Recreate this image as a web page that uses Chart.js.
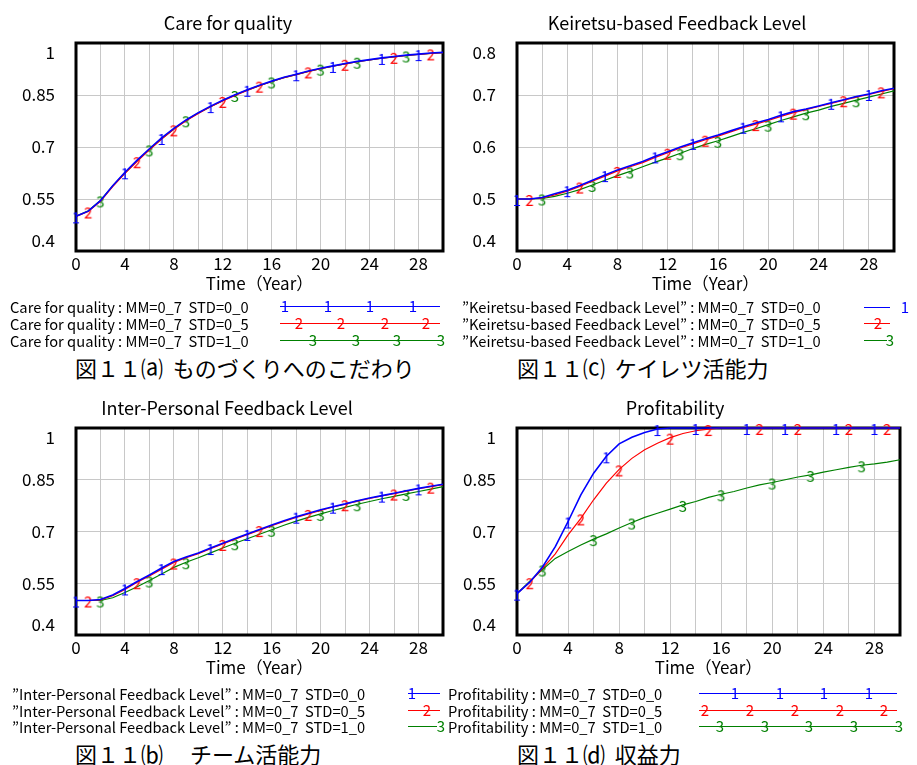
<!DOCTYPE html>
<html>
<head>
<meta charset="utf-8">
<script src="https://cdn.jsdelivr.net/npm/chart.js@4.4.1/dist/chart.umd.min.js"></script>
<style>
body{margin:0;background:#fff;width:917px;height:765px;position:relative;overflow:hidden;font-family:"Noto Sans CJK JP","Noto Sans",sans-serif;color:#000}
.abs{position:absolute;white-space:pre}
canvas{position:absolute}
.title{font-size:18px;transform:translate(-50%,-50%)}
.leg{font-size:14.7px;transform:translateY(-50%)}
.cap{font-size:22px;transform:translateY(-50%)}
.ln{position:absolute;height:0;border-top:1.5px solid}
.dg{position:absolute;font-size:15px;line-height:15px;transform:translate(-50%,-55%)}
</style>
</head>
<body>
<canvas id="chartA" width="458" height="270" style="left:0;top:30px"></canvas>
<canvas id="chartC" width="459" height="270" style="left:458px;top:30px"></canvas>
<canvas id="chartB" width="458" height="270" style="left:0;top:415px"></canvas>
<canvas id="chartD" width="459" height="270" style="left:458px;top:415px"></canvas>
<script>
// Time axis (years)
const years = [0,1,2,3,4,5,6,7,8,9,10,11,12,13,14,15,16,17,18,19,20,21,22,23,24,25,26,27,28,29,30];

// Care for quality (a)
const quality1 = [0.500,0.515,0.545,0.588,0.627,0.662,0.695,0.726,0.754,0.778,0.799,0.818,0.835,0.851,0.865,0.878,0.890,0.901,0.910,0.919,0.927,0.934,0.941,0.947,0.952,0.957,0.961,0.965,0.968,0.971,0.973];
const quality2 = [0.500,0.514,0.543,0.586,0.624,0.659,0.692,0.723,0.751,0.776,0.797,0.816,0.833,0.849,0.863,0.877,0.889,0.900,0.909,0.918,0.926,0.933,0.940,0.946,0.951,0.956,0.960,0.964,0.967,0.970,0.972];
const quality3 = [0.500,0.516,0.546,0.588,0.625,0.660,0.693,0.724,0.752,0.777,0.798,0.816,0.834,0.850,0.864,0.877,0.889,0.900,0.909,0.918,0.926,0.933,0.940,0.946,0.951,0.956,0.960,0.964,0.967,0.970,0.972];

// Keiretsu-based Feedback Level (c)
const keiretsu1 = [0.500,0.500,0.503,0.510,0.517,0.526,0.536,0.546,0.556,0.564,0.572,0.582,0.591,0.600,0.608,0.616,0.623,0.631,0.639,0.646,0.653,0.661,0.668,0.673,0.679,0.685,0.691,0.697,0.702,0.708,0.713];
const keiretsu2 = [0.500,0.500,0.502,0.508,0.515,0.524,0.534,0.544,0.554,0.562,0.570,0.580,0.589,0.598,0.606,0.614,0.621,0.629,0.637,0.644,0.651,0.659,0.666,0.672,0.678,0.684,0.690,0.696,0.701,0.707,0.712];
const keiretsu3 = [0.500,0.500,0.501,0.505,0.511,0.518,0.527,0.536,0.545,0.553,0.562,0.571,0.579,0.588,0.597,0.605,0.612,0.620,0.628,0.635,0.643,0.651,0.658,0.665,0.671,0.678,0.684,0.690,0.696,0.702,0.708];

// Inter-Personal Feedback Level (b)
const inter1 = [0.500,0.500,0.503,0.516,0.535,0.555,0.574,0.594,0.613,0.626,0.638,0.652,0.666,0.680,0.693,0.706,0.719,0.731,0.743,0.753,0.763,0.772,0.780,0.789,0.797,0.804,0.811,0.818,0.825,0.831,0.837];
const inter2 = [0.500,0.500,0.502,0.514,0.532,0.553,0.571,0.591,0.610,0.624,0.636,0.650,0.664,0.678,0.691,0.704,0.717,0.729,0.741,0.751,0.761,0.771,0.779,0.788,0.796,0.803,0.810,0.817,0.824,0.830,0.836];
const inter3 = [0.500,0.500,0.500,0.508,0.523,0.540,0.558,0.577,0.596,0.611,0.624,0.638,0.652,0.666,0.679,0.692,0.705,0.718,0.730,0.741,0.751,0.761,0.770,0.779,0.787,0.795,0.802,0.809,0.816,0.823,0.830];

// Profitability (d)
const profit1 = [0.520,0.553,0.597,0.656,0.729,0.806,0.869,0.918,0.954,0.973,0.987,0.997,1,1,1,1,1,1,1,1,1,1,1,1,1,1,1,1,1,1,1];
const profit2 = [0.520,0.553,0.593,0.635,0.690,0.738,0.792,0.840,0.880,0.912,0.937,0.956,0.972,0.984,0.992,0.997,1,1,1,1,1,1,1,1,1,1,1,1,1,1,1];
const profit3 = [0.520,0.556,0.590,0.622,0.642,0.661,0.678,0.693,0.710,0.726,0.741,0.753,0.765,0.777,0.787,0.799,0.808,0.816,0.826,0.835,0.842,0.850,0.858,0.864,0.872,0.879,0.886,0.892,0.896,0.901,0.908];

// which points carry the run number
const marks1 = [0,4,7,11,14,18,21,25,28];
const marks2 = [1,5,8,12,15,19,22,26,29];
const marks3 = [2,6,9,13,16,20,23,27];

const runColors = ['#0000ff', '#ff0000', '#008000'];
const FONT = '"Noto Sans CJK JP","Noto Sans",sans-serif';

function digitImage(d, color) {
    const c = document.createElement('canvas');
    c.width = 12; c.height = 18;
    const g = c.getContext('2d');
    g.font = '15px ' + FONT;
    g.fillStyle = color;
    g.textAlign = 'center';
    g.textBaseline = 'middle';
    g.fillText(d, 6, 10);
    return c;
}

const fmt = v => String(Number(v.toFixed(2)));

const framePlugin = {
    id: 'frame',
    beforeDatasetsDraw(chart) {
        const {ctx, chartArea: a} = chart;
        ctx.save();
        ctx.lineWidth = 3;
        ctx.strokeStyle = '#000';
        ctx.strokeRect(a.left, a.top, a.right - a.left, a.bottom - a.top);
        ctx.restore();
    },
    afterDraw(chart) {
        const {ctx, chartArea: a, scales: {x, y}} = chart;
        ctx.save();
        ctx.fillStyle = '#000';
        ctx.font = '17px ' + FONT;
        ctx.textBaseline = 'middle';
        ctx.textAlign = 'center';
        x.ticks.forEach(t => {
            if (t.value % 4 === 0 && t.value < 30) ctx.fillText(String(t.value), x.getPixelForValue(t.value), a.bottom + 13);
        });
        ctx.fillText('Time（Year）', (a.left + a.right) / 2, a.bottom + 33);
        ctx.textAlign = 'right';
        y.ticks.forEach(t => {
            const py = Math.min(Math.max(y.getPixelForValue(t.value), a.top + 10), a.bottom - 10);
            ctx.fillText(fmt(t.value), a.left - 21, py);
        });
        ctx.restore();
    }
};

function makeChart(id, series, yMin, yMax, yStep, pad) {
    const marks = [marks1, marks2, marks3];
    new Chart(document.getElementById(id), {
        type: 'line',
        data: {
            labels: years,
            datasets: series.map((s, i) => ({
                data: s,
                borderColor: runColors[i],
                borderWidth: i === 0 ? 1.6 : 1.2,
                tension: 0,
                clip: false,
                pointStyle: digitImage(String(i + 1), runColors[i]),
                pointRadius: ctx => marks[i].includes(ctx.dataIndex) ? 5 : 0
            }))
        },
        options: {
            responsive: false,
            animation: false,
            events: [],
            layout: {padding: pad, autoPadding: false},
            plugins: {legend: {display: false}, tooltip: {enabled: false}},
            scales: {
                x: {
                    type: 'linear', min: 0, max: 30,
                    ticks: {display: false, stepSize: 2},
                    grid: {color: '#c8c8c8', drawTicks: false},
                    border: {display: false}
                },
                y: {
                    min: yMin, max: yMax,
                    ticks: {display: false, stepSize: yStep},
                    grid: {color: '#c8c8c8', drawTicks: false},
                    border: {display: false}
                }
            }
        },
        plugins: [framePlugin]
    });
}

makeChart('chartA', [quality1, quality2, quality3], 0.4, 1, 0.15, {left: 76, top: 13, right: 15, bottom: 49});
makeChart('chartC', [keiretsu1, keiretsu2, keiretsu3], 0.4, 0.8, 0.1, {left: 59, top: 13, right: 23, bottom: 49});
makeChart('chartB', [inter1, inter2, inter3], 0.4, 1, 0.15, {left: 76, top: 13, right: 15, bottom: 50});
makeChart('chartD', [profit1, profit2, profit3], 0.4, 1, 0.15, {left: 59, top: 13, right: 17, bottom: 50});

// titles, legends and captions
function addText(cls, txt, x, y) {
    const el = document.createElement('div');
    el.className = 'abs ' + cls;
    el.textContent = txt;
    el.style.left = x + 'px';
    el.style.top = y + 'px';
    document.body.appendChild(el);
}
function addLine(x1, x2, y, color, digit, digitXs) {
    const ln = document.createElement('div');
    ln.className = 'ln';
    ln.style.left = x1 + 'px';
    ln.style.width = (x2 - x1) + 'px';
    ln.style.top = y + 'px';
    ln.style.borderColor = color;
    document.body.appendChild(ln);
    digitXs.forEach(dx => {
        const d = document.createElement('div');
        d.className = 'dg';
        d.textContent = digit;
        d.style.left = dx + 'px';
        d.style.top = y + 'px';
        d.style.color = color;
        document.body.appendChild(d);
    });
}

addText('title', 'Care for quality', 228, 22);
addText('title', 'Keiretsu-based Feedback Level', 677, 22);
addText('title', 'Inter-Personal Feedback Level', 227, 407);
addText('title', 'Profitability', 675, 407);

const stdLabels = ['STD=0_0', 'STD=0_5', 'STD=1_0'];
const rowsTop = [306, 323, 340];
const rowsBottom = [693, 710, 726];

stdLabels.forEach((s, i) => {
    addText('leg', 'Care for quality : MM=0_7  ' + s, 10, rowsTop[i]);
    addText('leg', '”Keiretsu-based Feedback Level” : MM=0_7  ' + s, 462, rowsTop[i]);
    addText('leg', '”Inter-Personal Feedback Level” : MM=0_7  ' + s, 12, rowsBottom[i]);
    addText('leg', 'Profitability : MM=0_7  ' + s, 448, rowsBottom[i]);
});

addLine(280, 440, 306, runColors[0], '1', [285, 328, 370, 413]);
addLine(280, 440, 323, runColors[1], '2', [299, 341, 385, 426]);
addLine(280, 440, 340, runColors[2], '3', [313, 356, 397, 441]);

addLine(864, 890, 307, runColors[0], '1', [905]);
addLine(864, 890, 323, runColors[1], '2', [878]);
addLine(864, 887, 340, runColors[2], '3', [890]);

addLine(408, 440, 693, runColors[0], '1', [412]);
addLine(408, 440, 710, runColors[1], '2', [427]);
addLine(408, 437, 726, runColors[2], '3', [441]);

addLine(699, 897, 693, runColors[0], '1', [735, 780, 824, 869]);
addLine(699, 897, 710, runColors[1], '2', [705, 750, 795, 840, 884]);
addLine(699, 897, 726, runColors[2], '3', [720, 765, 809, 854, 899]);

addText('cap', '図１１⒜  ものづくりへのこだわり', 75, 367);
addText('cap', '図１１⒞  ケイレツ活能力', 517, 367);
addText('cap', '図１１⒝　 チーム活能力', 75, 753);
addText('cap', '図１１⒟  収益力', 517, 753);
</script>
</body>
</html>
